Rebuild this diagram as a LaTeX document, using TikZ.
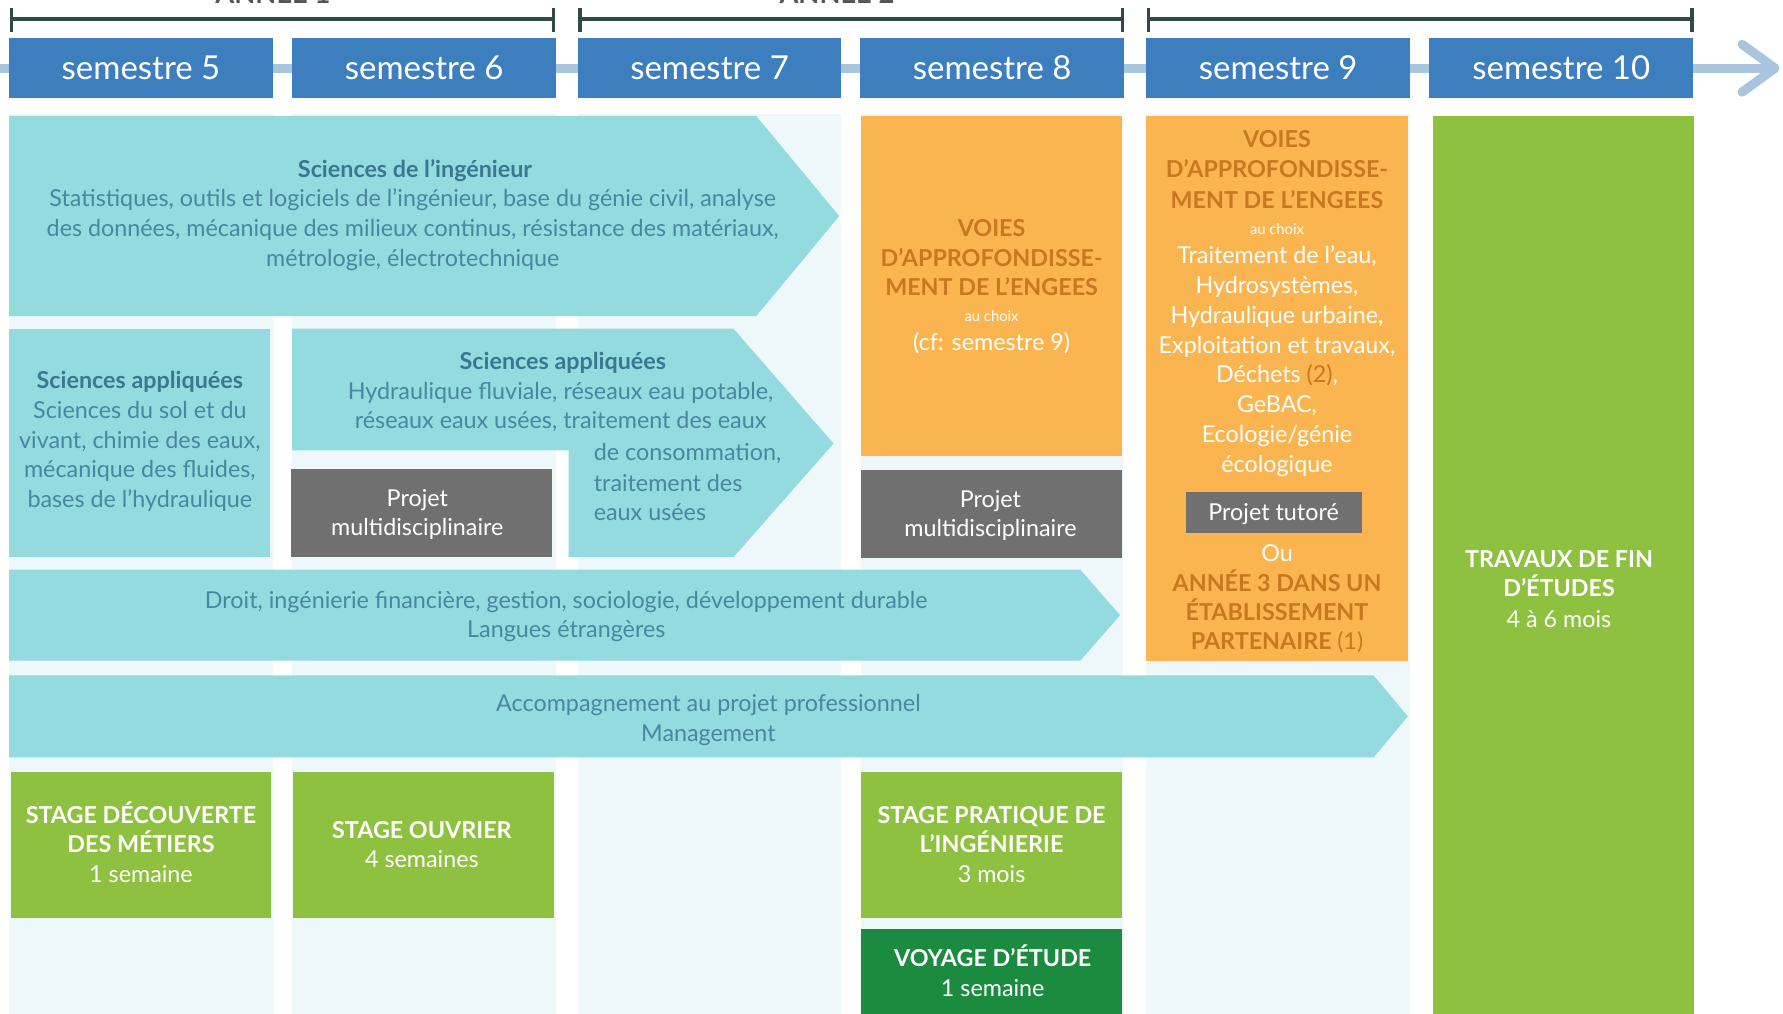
\documentclass[tikz,border=0pt]{standalone}
\usepackage{fontspec}
\setmainfont{Lato}
\definecolor{semblue}{HTML}{3D7EBE}
\definecolor{tline}{HTML}{A9C5DE}
\definecolor{brk}{HTML}{2F4A47}
\definecolor{colbg}{HTML}{EEF7F9}
\definecolor{teal}{HTML}{93DBDE}
\definecolor{tealtxt}{HTML}{4A86A0}
\definecolor{tealtit}{HTML}{3C7791}
\definecolor{orng}{HTML}{FBB550}
\definecolor{brwn}{HTML}{C77820}
\definecolor{grn}{HTML}{8FC140}
\definecolor{dgrn}{HTML}{1B8B3F}
\definecolor{gry}{HTML}{707070}
\definecolor{yeartxt}{HTML}{555555}
\newcommand\txtlines[6]{% name, style, x, y0, step, list
  \foreach \l [count=\i] in {#6}{\node[#2,anchor=base] (#1\i) at (#3,{#4+#5*(\i-1)}) {\l};}}
\begin{document}
\begin{tikzpicture}[x=1pt,y=-1pt,
  fs/.style={font=\fontsize{20.5}{26}\selectfont, inner sep=0},
  tt/.style={fs, text=tealtxt},
  ttb/.style={fs, text=tealtit, font=\fontsize{20.5}{26}\selectfont\bfseries},
  wt/.style={fs, text=white},
  wtb/.style={fs, text=white, font=\fontsize{20.5}{26}\selectfont\bfseries},
  brb/.style={fs, text=brwn, font=\fontsize{20.5}{26}\selectfont\bfseries},
  small/.style={inner sep=0, text=white, font=\fontsize{13}{16}\selectfont},
  sem/.style={fill=semblue, text=white, minimum width=232, minimum height=53, inner sep=0,
    font=\fontsize{29}{34}\selectfont},
  brkline/.style={draw=brk, line width=3.5},
  yearlbl/.style={text=yeartxt, inner sep=0, font=\fontsize{24}{28}\selectfont\bfseries}
]
\useasboundingbox (0,0) rectangle (1568,891.7);
\fill[white] (0,0) rectangle (1568,891.7);

% column backgrounds
\foreach \a/\b in {8/240,257/489,508/740,757/988,1008/1240}
  \fill[colbg] (\a,100) rectangle (\b,892);

% year brackets
\node[yearlbl,anchor=base] (an1) at (240,3) {ANNÉE 1};
\node[yearlbl,anchor=base] (an2) at (736,3) {ANNÉE 2};
\foreach \a/\b in {10/487,510/987,1010/1488}{
  \draw[brkline] (\a,17) -- (\b,17);
  \draw[draw=brk, line width=3] (\a,7) -- (\a,28);
  \draw[draw=brk, line width=3] (\b,7) -- (\b,28);
}

% timeline
\draw[tline, line width=8] (0,60) -- (1560,60);
\draw[tline, line width=8, line join=round, line cap=round] (1532,39) -- (1561,60) -- (1532,81);

% semester headers
\node[sem] (s5) at (124,59.5) {semestre 5};
\node[sem] (s6) at (373,59.5) {semestre 6};
\node[sem] (s7) at (624,59.5) {semestre 7};
\node[sem] (s8) at (872.5,59.5) {semestre 8};
\node[sem] (s9) at (1124,59.5) {semestre 9};
\node[sem] (s10) at (1373,59.5) {semestre 10};

% teal arrows and boxes
\fill[teal] (8,102) -- (665,102) -- (738,190) -- (665,278) -- (8,278) -- cycle;
\fill[teal] (8,289) rectangle (237,490);
\fill[teal] (257,289) -- (645,289) -- (733,390) -- (645,490) -- (500,490) -- (500,396) -- (257,396) -- cycle;
\fill[teal] (8,501) -- (950,501) -- (985,541) -- (950,581) -- (8,581) -- cycle;
\fill[teal] (8,594) -- (1208,594) -- (1238,630) -- (1208,666) -- (8,666) -- cycle;

% orange boxes
\fill[orng] (757,102) rectangle (987,401);
\fill[orng] (1008,102) rectangle (1238,581);
% gray boxes
\fill[gry] (256,412) rectangle (485,490);
\fill[gry] (757,413) rectangle (987,491);
\fill[gry] (1043,433) rectangle (1198,469);
% green boxes
\fill[grn] (1260,102) rectangle (1490,892);
\fill[grn] (10,679) rectangle (238,807);
\fill[grn] (258,679) rectangle (487,807);
\fill[grn] (757,679) rectangle (987,807);
\fill[dgrn] (757,817) rectangle (987,892);

% texts: sciences de l'ingenieur
\node[ttb,anchor=base] (sit) at (365,156) {Sciences de l'ingénieur};
\txtlines{si}{tt}{363}{182}{26}{{Statistiques, outils et logiciels de l'ingénieur, base du génie civil, analyse},{des données, mécanique des milieux continus, résistance des matériaux,},{métrologie, électrotechnique}}

% sciences appliquees (left)
\node[ttb,anchor=base] (salt) at (123,342) {Sciences appliquées};
\txtlines{sal}{tt}{123}{368}{26}{{Sciences du sol et du},{vivant, chimie des eaux,},{mécanique des fluides,},{bases de l'hydraulique}}

% sciences appliquees (middle)
\node[ttb,anchor=base] (samt) at (495,325) {Sciences appliquées};
\txtlines{sam}{tt}{493}{351}{26}{{Hydraulique fluviale, réseaux eau potable,},{réseaux eaux usées, traitement des eaux}}
\node[tt,anchor=base west] (samx1) at (522,405) {de consommation,};
\node[tt,anchor=base west] (samx2) at (522,432) {traitement des};
\node[tt,anchor=base west] (samx3) at (522,458) {eaux usées};

% projets
\txtlines{pm6}{wt}{367}{445}{26}{{Projet},{multidisciplinaire}}
\txtlines{pm8}{wt}{871}{446}{26}{{Projet},{multidisciplinaire}}
\node[wt,anchor=base] (ptut) at (1120,458) {Projet tutoré};

% semestre 8 orange
\txtlines{v8}{brb}{872}{208}{26}{{VOIES},{D'APPROFONDISSE-},{MENT DE L'ENGEES}}
\node[small,anchor=base] (v8c) at (872,283) {au choix};
\node[wt,anchor=base] (v8s) at (872,308) {(cf: semestre 9)};

% semestre 9 orange
\txtlines{v9}{brb}{1123}{130}{26.5}{{VOIES},{D'APPROFONDISSE-},{MENT DE L'ENGEES}}
\node[small,anchor=base] (v9c) at (1123,206) {au choix};
\txtlines{v9l}{wt}{1123}{232}{26.2}{{Traitement de l'eau,},{Hydrosystèmes,},{Hydraulique urbaine,},{Exploitation et travaux,},{Déchets \textcolor{brwn}{(2)},},{GeBAC,},{Ecologie/génie},{écologique}}
\node[wt,anchor=base] (v9ou) at (1123,494) {Ou};
\txtlines{v9a}{brb}{1123}{520}{25.5}{{ANNÉE 3 DANS UN},{ÉTABLISSEMENT},{PARTENAIRE \mdseries(1)}}

% semestre 10
\txtlines{tfe}{wtb}{1371}{499}{26}{{TRAVAUX DE FIN},{D'ÉTUDES}}
\node[wt,anchor=base] (tfe3) at (1371,552) {4 à 6 mois};

% droit & accompagnement
\txtlines{dr}{tt}{498}{535}{26}{{Droit, ingénierie financière, gestion, sociologie, développement durable},{Langues étrangères}}
\txtlines{ac}{tt}{623}{626}{26}{{Accompagnement au projet professionnel},{Management}}

% stages
\txtlines{st5}{wtb}{124}{724}{26}{{STAGE DÉCOUVERTE},{DES MÉTIERS}}
\node[wt,anchor=base] (st5c) at (124,776) {1 semaine};
\node[wtb,anchor=base] (st6a) at (371,737) {STAGE OUVRIER};
\node[wt,anchor=base] (st6b) at (371,763) {4 semaines};
\txtlines{st8}{wtb}{872}{724}{26}{{STAGE PRATIQUE DE},{L'INGÉNIERIE}}
\node[wt,anchor=base] (st8c) at (872,776) {3 mois};
\node[wtb,anchor=base] (voy1) at (873,850) {VOYAGE D'ÉTUDE};
\node[wt,anchor=base] (voy2) at (873,876) {1 semaine};
\end{tikzpicture}
\end{document}
